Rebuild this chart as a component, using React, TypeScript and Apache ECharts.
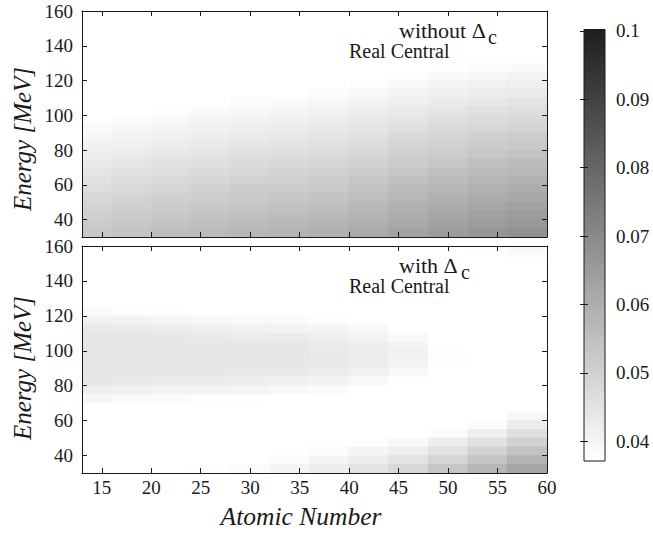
import React, { useEffect, useRef } from "react";
import * as echarts from "echarts";

// Atomic number cell centres (cells 4 wide) and energy cell centres (cells 5 MeV tall, top row first)
const zCenters = [14, 18, 22, 26, 30, 34, 38, 42, 46, 50, 54, 58];
const eCenters = [157.5, 152.5, 147.5, 142.5, 137.5, 132.5, 127.5, 122.5, 117.5, 112.5, 107.5, 102.5, 97.5, 92.5, 87.5, 82.5, 77.5, 72.5, 67.5, 62.5, 57.5, 52.5, 47.5, 42.5, 37.5, 32.5];

// "without Δc" panel, one row per energy (top to bottom), one value per atomic-number cell
const withoutRows = [
  [0.035, 0.035, 0.035, 0.035, 0.035, 0.035, 0.035, 0.035, 0.035, 0.035, 0.035, 0.035],
  [0.035, 0.035, 0.035, 0.035, 0.035, 0.035, 0.035, 0.035, 0.035, 0.035, 0.035, 0.035],
  [0.035, 0.035, 0.035, 0.035, 0.035, 0.035, 0.035, 0.035, 0.035, 0.035, 0.035, 0.035],
  [0.035, 0.035, 0.035, 0.035, 0.035, 0.035, 0.035, 0.035, 0.035, 0.035, 0.035, 0.035],
  [0.035, 0.035, 0.035, 0.035, 0.035, 0.035, 0.035, 0.035, 0.035, 0.035, 0.035, 0.035],
  [0.035, 0.035, 0.035, 0.035, 0.035, 0.035, 0.035, 0.035, 0.035, 0.035, 0.035, 0.035],
  [0.035, 0.035, 0.035, 0.035, 0.035, 0.035, 0.035, 0.035, 0.035, 0.035, 0.0379, 0.0385],
  [0.035, 0.035, 0.035, 0.035, 0.035, 0.035, 0.035, 0.035, 0.0375, 0.0384, 0.0394, 0.0401],
  [0.035, 0.035, 0.035, 0.035, 0.035, 0.035, 0.035, 0.0378, 0.0389, 0.0399, 0.0409, 0.0415],
  [0.035, 0.035, 0.035, 0.035, 0.035, 0.0372, 0.038, 0.0392, 0.0404, 0.0414, 0.0423, 0.0431],
  [0.035, 0.035, 0.035, 0.0372, 0.038, 0.0386, 0.0394, 0.0406, 0.0416, 0.0427, 0.0438, 0.0446],
  [0.035, 0.035, 0.0376, 0.0385, 0.0393, 0.0399, 0.0407, 0.0418, 0.0431, 0.0442, 0.0454, 0.0462],
  [0.0372, 0.038, 0.0389, 0.0398, 0.0406, 0.0412, 0.0419, 0.0432, 0.0445, 0.0457, 0.0469, 0.0478],
  [0.0384, 0.0392, 0.0402, 0.0411, 0.0418, 0.0424, 0.0432, 0.0445, 0.0459, 0.0471, 0.0484, 0.0494],
  [0.0397, 0.0405, 0.0415, 0.0422, 0.0431, 0.0437, 0.0446, 0.0459, 0.0474, 0.0486, 0.05, 0.051],
  [0.0409, 0.0415, 0.0425, 0.0435, 0.0444, 0.045, 0.0459, 0.0473, 0.0488, 0.0501, 0.0513, 0.0523],
  [0.0419, 0.0428, 0.0438, 0.0448, 0.0457, 0.0464, 0.0473, 0.0487, 0.0502, 0.0514, 0.0529, 0.0539],
  [0.0431, 0.0441, 0.0451, 0.0461, 0.047, 0.0477, 0.0487, 0.0501, 0.0515, 0.0529, 0.0544, 0.0555],
  [0.0443, 0.0453, 0.0464, 0.0474, 0.0483, 0.0491, 0.05, 0.0513, 0.0529, 0.0544, 0.0559, 0.0571],
  [0.0455, 0.0466, 0.0477, 0.0487, 0.0496, 0.0504, 0.0512, 0.0527, 0.0544, 0.0559, 0.0575, 0.0586],
  [0.0467, 0.0478, 0.049, 0.05, 0.051, 0.0515, 0.0525, 0.0541, 0.0558, 0.0574, 0.059, 0.0601],
  [0.0479, 0.0491, 0.0502, 0.0511, 0.0521, 0.0529, 0.0539, 0.0554, 0.0572, 0.0589, 0.0606, 0.0616],
  [0.0492, 0.0503, 0.0513, 0.0524, 0.0534, 0.0542, 0.0552, 0.0568, 0.0587, 0.0604, 0.0619, 0.0632],
  [0.0504, 0.0514, 0.0526, 0.0537, 0.0547, 0.0556, 0.0566, 0.0582, 0.0601, 0.0617, 0.0634, 0.0648],
  [0.0514, 0.0526, 0.0539, 0.055, 0.056, 0.0569, 0.058, 0.0596, 0.0613, 0.0632, 0.065, 0.0663],
  [0.0526, 0.0539, 0.0552, 0.0563, 0.0573, 0.0582, 0.0593, 0.061, 0.0628, 0.0647, 0.0665, 0.0679],
];

// "with Δc" panel
const withRows = [
  [0.035, 0.035, 0.035, 0.035, 0.035, 0.035, 0.035, 0.035, 0.035, 0.035, 0.0378, 0.0391],
  [0.035, 0.035, 0.035, 0.035, 0.035, 0.035, 0.035, 0.035, 0.035, 0.035, 0.035, 0.0378],
  [0.035, 0.035, 0.035, 0.035, 0.035, 0.035, 0.035, 0.035, 0.035, 0.035, 0.035, 0.035],
  [0.035, 0.035, 0.035, 0.035, 0.035, 0.035, 0.035, 0.035, 0.035, 0.035, 0.035, 0.035],
  [0.035, 0.035, 0.035, 0.035, 0.035, 0.035, 0.035, 0.035, 0.035, 0.035, 0.035, 0.035],
  [0.035, 0.035, 0.035, 0.035, 0.035, 0.035, 0.035, 0.035, 0.035, 0.035, 0.035, 0.035],
  [0.035, 0.035, 0.035, 0.035, 0.035, 0.035, 0.035, 0.035, 0.035, 0.035, 0.035, 0.035],
  [0.0384, 0.0378, 0.0374, 0.035, 0.035, 0.035, 0.035, 0.035, 0.035, 0.035, 0.035, 0.035],
  [0.0409, 0.0404, 0.0399, 0.0393, 0.0387, 0.0385, 0.0378, 0.035, 0.035, 0.035, 0.035, 0.035],
  [0.0431, 0.0426, 0.0421, 0.0415, 0.041, 0.0404, 0.0398, 0.0388, 0.035, 0.035, 0.035, 0.035],
  [0.0442, 0.044, 0.0437, 0.0432, 0.0428, 0.0423, 0.0417, 0.0406, 0.0388, 0.035, 0.035, 0.035],
  [0.0444, 0.0444, 0.0444, 0.0442, 0.0441, 0.0439, 0.0431, 0.0419, 0.0404, 0.035, 0.035, 0.035],
  [0.0444, 0.0444, 0.0444, 0.0442, 0.0441, 0.0439, 0.0434, 0.0424, 0.041, 0.0376, 0.035, 0.035],
  [0.0444, 0.0444, 0.0444, 0.0442, 0.0441, 0.0439, 0.0434, 0.0422, 0.0406, 0.0376, 0.035, 0.035],
  [0.0443, 0.0443, 0.0442, 0.0439, 0.0436, 0.0432, 0.0423, 0.0411, 0.0391, 0.035, 0.035, 0.035],
  [0.0437, 0.0434, 0.0431, 0.0425, 0.0419, 0.0413, 0.0404, 0.0391, 0.0373, 0.035, 0.035, 0.035],
  [0.0416, 0.0412, 0.0407, 0.0401, 0.0398, 0.0392, 0.0382, 0.035, 0.035, 0.035, 0.035, 0.035],
  [0.0394, 0.0389, 0.0384, 0.0378, 0.0373, 0.035, 0.035, 0.035, 0.035, 0.035, 0.035, 0.035],
  [0.035, 0.035, 0.035, 0.035, 0.035, 0.035, 0.035, 0.035, 0.035, 0.035, 0.035, 0.035],
  [0.035, 0.035, 0.035, 0.035, 0.035, 0.035, 0.035, 0.035, 0.035, 0.035, 0.035, 0.039],
  [0.035, 0.035, 0.035, 0.035, 0.035, 0.035, 0.035, 0.035, 0.035, 0.035, 0.0383, 0.0425],
  [0.035, 0.035, 0.035, 0.035, 0.035, 0.035, 0.035, 0.035, 0.035, 0.0382, 0.0418, 0.046],
  [0.035, 0.035, 0.035, 0.035, 0.035, 0.035, 0.035, 0.0373, 0.0392, 0.0418, 0.0455, 0.05],
  [0.035, 0.035, 0.035, 0.035, 0.035, 0.035, 0.0381, 0.0398, 0.042, 0.0453, 0.0495, 0.054],
  [0.035, 0.035, 0.035, 0.035, 0.035, 0.0381, 0.0401, 0.0421, 0.0449, 0.049, 0.0535, 0.058],
  [0.035, 0.035, 0.035, 0.0374, 0.0381, 0.0399, 0.0419, 0.0446, 0.0479, 0.053, 0.0575, 0.062],
];

const xTicks = [15, 20, 25, 30, 35, 40, 45, 50, 55, 60];
const yTicks = [40, 60, 80, 100, 120, 140, 160];
const cbTicks = [0.04, 0.05, 0.06, 0.07, 0.08, 0.09, 0.1];
const xRange = [13, 60];
const yRange = [30, 160];
const cbRange = [0.0371, 0.1002];

const FONT = "Liberation Serif, Times New Roman, serif";
const INK = "#1a1a1a";

function toData(rows: number[][]) {
  const out: number[][] = [];
  rows.forEach((row, i) => {
    row.forEach((v, j) => {
      out.push([zCenters[j], eCenters[i], v]);
    });
  });
  return out;
}

export default function App() {
  const ref = useRef<HTMLDivElement>(null);
  useEffect(() => {
    if (!ref.current) return;
    const chart = echarts.init(ref.current, null, { renderer: "svg" });
    const dZ = Math.abs(zCenters[1] - zCenters[0]);
    const dE = Math.abs(eCenters[0] - eCenters[1]);

    const renderItem = (params: any, api: any) => {
      const z = api.value(0);
      const e = api.value(1);
      const p0 = api.coord([z - dZ / 2, e + dE / 2]);
      const p1 = api.coord([z + dZ / 2, e - dE / 2]);
      const cs = params.coordSys;
      const shape = echarts.graphic.clipRectByRect(
        { x: p0[0] - 0.4, y: p0[1] - 0.4, width: p1[0] - p0[0] + 0.8, height: p1[1] - p0[1] + 0.8 },
        { x: cs.x, y: cs.y, width: cs.width, height: cs.height }
      );
      if (!shape) return null;
      const c = api.visual("color");
      return { type: "rect", shape, style: { fill: c, stroke: null } };
    };

    const frameLine = { show: true, onZero: false, lineStyle: { color: INK, width: 1 } };
    const tickIn = (vals: number[]) => ({
      show: true,
      inside: true,
      length: 5,
      customValues: vals,
      lineStyle: { color: INK, width: 1 },
    });
    const labelStyle = { color: INK, fontFamily: FONT, fontSize: 19 };

    const xAxisDef = (gridIndex: number, position: string, labels: boolean) => ({
      type: "value",
      gridIndex,
      position,
      min: xRange[0],
      max: xRange[1],
      z: 10,
      axisLine: frameLine,
      axisTick: tickIn(xTicks),
      axisLabel: labels
        ? { show: true, margin: 5, customValues: xTicks, ...labelStyle }
        : { show: false },
      splitLine: { show: false },
    });
    const yAxisDef = (gridIndex: number, position: string, labels: boolean) => ({
      type: "value",
      gridIndex,
      position,
      min: yRange[0],
      max: yRange[1],
      z: 10,
      axisLine: frameLine,
      axisTick: tickIn(yTicks),
      axisLabel: labels
        ? { show: true, margin: 9, customValues: yTicks, ...labelStyle }
        : { show: false },
      splitLine: { show: false },
    });

    const subText = (x: number, y: number, text: string, size: number) => ({
      type: "text",
      x,
      y,
      z: 20,
      style: {
        text,
        fill: INK,
        fontFamily: FONT,
        fontSize: size,
        align: "left",
        verticalAlign: "middle",
      },
    });
    const titleText = (x: number, y: number, text: string, size: number, rotation: number) => ({
      type: "text",
      x,
      y,
      rotation,
      z: 20,
      style: {
        text,
        fill: INK,
        fontFamily: FONT,
        fontStyle: "italic",
        fontSize: size,
        align: "center",
        verticalAlign: "middle",
      },
    });

    chart.setOption({
      animation: false,
      backgroundColor: "#ffffff",
      textStyle: { fontFamily: FONT },
      grid: [
        { left: 82, top: 11, width: 465, height: 226, show: false },
        { left: 82, top: 246, width: 465, height: 227, show: false },
        { left: 584, top: 29.5, width: 21, height: 431.5, show: true, borderColor: INK, borderWidth: 1, backgroundColor: "transparent", z: 5 },
      ],
      xAxis: [
        xAxisDef(0, "bottom", false),
        xAxisDef(0, "top", false),
        xAxisDef(1, "bottom", true),
        xAxisDef(1, "top", false),
        { type: "value", gridIndex: 2, min: 0, max: 1, show: false },
      ],
      yAxis: [
        yAxisDef(0, "left", true),
        yAxisDef(0, "right", false),
        yAxisDef(1, "left", true),
        yAxisDef(1, "right", false),
        {
          type: "value",
          gridIndex: 2,
          position: "right",
          min: cbRange[0],
          max: cbRange[1],
          z: 10,
          axisLine: { show: false },
          axisTick: { show: true, inside: true, length: 4, customValues: cbTicks, lineStyle: { color: INK } },
          axisLabel: {
            show: true,
            margin: 11,
            customValues: cbTicks,
            formatter: (v: number) => String(Number(v.toFixed(2))),
            ...labelStyle,
          },
          splitLine: { show: false },
        },
        {
          type: "value",
          gridIndex: 2,
          position: "left",
          min: cbRange[0],
          max: cbRange[1],
          z: 10,
          axisLine: { show: false },
          axisTick: { show: true, inside: true, length: 4, customValues: cbTicks, lineStyle: { color: INK } },
          axisLabel: { show: false },
          splitLine: { show: false },
        },
      ],
      visualMap: {
        type: "continuous",
        show: false,
        min: cbRange[0],
        max: cbRange[1],
        dimension: 2,
        seriesIndex: [0, 1],
        inRange: { color: ["#ffffff", "#1e1e1e"] },
      },
      series: [
        {
          type: "custom",
          xAxisIndex: 0,
          yAxisIndex: 0,
          z: 1,
          encode: { x: 0, y: 1 },
          renderItem,
          data: toData(withoutRows),
        },
        {
          type: "custom",
          xAxisIndex: 2,
          yAxisIndex: 2,
          z: 1,
          encode: { x: 0, y: 1 },
          renderItem,
          data: toData(withRows),
        },
      ],
      graphic: [
        {
          type: "rect",
          x: 584,
          y: 29.5,
          z: 1,
          shape: { width: 21, height: 431.5 },
          style: {
            fill: new echarts.graphic.LinearGradient(0, 0, 0, 1, [
              { offset: 0, color: "#1e1e1e" },
              { offset: 1, color: "#ffffff" },
            ]),
          },
        },
        subText(399, 30, "without Δ", 22),
        subText(488, 37, "c", 20),
        subText(349, 51, "Real Central", 20),
        subText(399, 265, "with Δ", 22),
        subText(461, 272, "c", 20),
        subText(349, 286, "Real Central", 20),
        titleText(22, 139, "Energy [MeV]", 25, Math.PI / 2),
        titleText(22, 368, "Energy [MeV]", 25, Math.PI / 2),
        titleText(301, 516, "Atomic Number", 25.5, 0),
      ],
    });
    return () => chart.dispose();
  }, []);
  return (
    <div
      ref={ref}
      style={{ position: "fixed", left: 0, top: 0, width: 653, height: 533, background: "#fff" }}
    />
  );
}
